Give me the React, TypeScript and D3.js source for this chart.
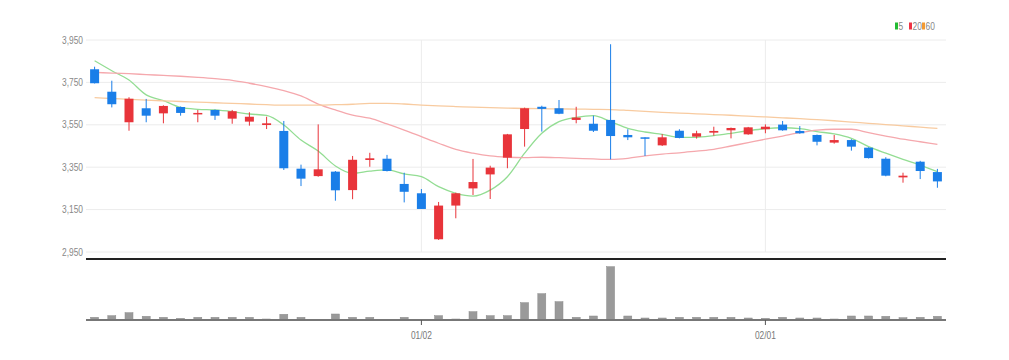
import React, { useEffect } from "react";
import * as d3 from "d3";

// trading days (MM/DD)
const dates = [
  "12/01", "12/04", "12/05", "12/06", "12/07", "12/08", "12/11", "12/12", "12/13", "12/14",
  "12/15", "12/18", "12/19", "12/20", "12/21", "12/22", "12/26", "12/27", "12/28", "01/02",
  "01/03", "01/04", "01/05", "01/08", "01/09", "01/10", "01/11", "01/12", "01/15", "01/16",
  "01/17", "01/18", "01/19", "01/22", "01/23", "01/24", "01/25", "01/26", "01/29", "02/01",
  "02/02", "02/05", "02/06", "02/07", "02/08", "02/13", "02/14", "02/15", "02/16", "02/19",
];
const tickDates = ["01/02", "02/01"];
const priceTicks = [2950, 3150, 3350, 3550, 3750, 3950];

const opens = [
  3812, 3706, 3562, 3628, 3604, 3634, 3600, 3620, 3579, 3565,
  3549, 3521, 3343, 3308, 3329, 3242, 3384, 3390, 3271, 3227,
  3010, 3169, 3250, 3316, 3395, 3530, 3635, 3628, 3573, 3555,
  3573, 3502, 3491, 3453, 3522, 3494, 3513, 3524, 3505, 3529,
  3551, 3521, 3502, 3466, 3478, 3442, 3390, 3302, 3376, 3327,
];
const highs = [
  3824, 3758, 3680, 3672, 3642, 3636, 3620, 3622, 3620, 3609,
  3588, 3568, 3362, 3552, 3332, 3403, 3418, 3408, 3324, 3247,
  3186, 3230, 3389, 3357, 3507, 3631, 3640, 3667, 3635, 3593,
  3930, 3529, 3491, 3506, 3529, 3522, 3541, 3537, 3540, 3552,
  3568, 3544, 3504, 3502, 3482, 3444, 3397, 3324, 3380, 3342,
];
const lows = [
  3745, 3632, 3522, 3562, 3557, 3593, 3562, 3573, 3555, 3546,
  3530, 3337, 3261, 3305, 3192, 3199, 3352, 3330, 3184, 3153,
  3007, 3109, 3219, 3200, 3345, 3447, 3518, 3600, 3557, 3516,
  3387, 3478, 3403, 3450, 3486, 3485, 3499, 3486, 3503, 3510,
  3522, 3508, 3453, 3461, 3428, 3391, 3307, 3277, 3294, 3253,
];
const closes = [
  3746, 3647, 3673, 3593, 3639, 3606, 3606, 3593, 3614, 3588,
  3557, 3345, 3296, 3340, 3241, 3385, 3392, 3332, 3234, 3153,
  3169, 3227, 3280, 3348, 3505, 3628, 3625, 3602, 3584, 3522,
  3497, 3491, 3486, 3491, 3488, 3510, 3521, 3535, 3538, 3541,
  3524, 3510, 3470, 3478, 3447, 3393, 3310, 3310, 3332, 3283,
];
const volumes = [
  27000, 43000, 73000, 37000, 27000, 17000, 27000, 27000, 27000, 27000,
  10000, 57000, 27000, 7000, 60000, 27000, 27000, 3000, 27000, 7000,
  43000, 10000, 83000, 43000, 43000, 173000, 263000, 183000, 27000, 40000,
  533000, 40000, 20000, 20000, 27000, 27000, 27000, 27000, 20000, 17000,
  27000, 20000, 20000, 10000, 40000, 40000, 37000, 23000, 27000, 37000,
];
const ma5 = [
  3852, 3805, 3761, 3691, 3664, 3632, 3623, 3620, 3612, 3601,
  3594, 3549, 3478, 3426, 3356, 3321, 3331, 3337, 3318, 3305,
  3258, 3227, 3214, 3242, 3305, 3416, 3510, 3565, 3585, 3593,
  3565, 3533, 3516, 3505, 3491, 3491, 3499, 3510, 3522, 3532,
  3536, 3532, 3518, 3507, 3486, 3447, 3416, 3387, 3360, 3329,
];
const ma20 = [
  3797, 3794, 3791, 3787, 3783, 3779, 3774, 3768, 3760, 3746,
  3730, 3711, 3686, 3648, 3620, 3596, 3581, 3554, 3525, 3494,
  3463, 3434, 3416, 3403, 3397, 3395, 3397, 3395, 3392, 3389,
  3387, 3392, 3403, 3412, 3418, 3426, 3434, 3450, 3466, 3482,
  3497, 3513, 3525, 3529, 3529, 3513, 3497, 3482, 3470, 3458,
];
const ma60 = [
  3678, 3674, 3670, 3666, 3663, 3660, 3657, 3654, 3651, 3648,
  3645, 3643, 3643, 3643, 3645, 3647, 3651, 3651, 3648, 3643,
  3639, 3636, 3633, 3631, 3629, 3627, 3626, 3625, 3624, 3623,
  3622, 3618, 3613, 3609, 3605, 3602, 3598, 3595, 3591, 3587,
  3583, 3579, 3574, 3569, 3563, 3557, 3551, 3545, 3539, 3533,
];

const maSeries = [
  { name: "5", values: ma5, color: "#22bb33", line: "#93dd93" },
  { name: "20", values: ma20, color: "#ee3344", line: "#f5a8ad" },
  { name: "60", values: ma60, color: "#f39a33", line: "#f8cba0" },
];

const UP = "#e8343a";
const DOWN = "#1a7ee8";
const FONT = "'Liberation Sans', Arial, sans-serif";

// narrow label text (the original uses a condensed face)
const Label = ({ x, y, anchor = "start", fill = "#888", children }: any) => (
  <text
    transform={`translate(${x},${y}) scale(0.8,1)`}
    textAnchor={anchor}
    fontSize={10.5}
    fill={fill}
  >
    {children}
  </text>
);

export default function App() {
  useEffect(() => {
    document.body.style.margin = "0";
  }, []);

  const width = 1009;
  const height = 360;
  const left = 86;
  const right = 946;

  const x = d3.scalePoint<string>().domain(dates).range([left, right]).padding(0.5);
  const y = d3.scaleLinear().domain([2950, 3950]).range([252, 40]);
  const yVol = d3.scaleLinear().domain([0, d3.max(volumes) as number]).range([320, 266.7]);

  const bodyW = 9;
  const volW = 8;

  const lineGen = (vals: number[]) =>
    d3
      .line<number>()
      .x((_, i) => x(dates[i]) as number)
      .y((d) => y(d))
      .curve(d3.curveMonotoneX)(vals) as string;

  return (
    <svg width={width} height={height} style={{ display: "block", fontFamily: FONT }}>
      {/* horizontal grid + price labels */}
      {priceTicks.map((t) => (
        <g key={t}>
          <line x1={left} x2={right} y1={y(t)} y2={y(t)} stroke="#ececec" strokeWidth={1} />
          <Label x={83} y={y(t) + 3.5} anchor="end">
            {d3.format(",")(t)}
          </Label>
        </g>
      ))}
      {/* vertical grid at month ticks */}
      {tickDates.map((d) => (
        <line key={d} x1={x(d)} x2={x(d)} y1={40} y2={252} stroke="#ececec" strokeWidth={1} />
      ))}

      {/* moving averages */}
      {maSeries.map((s) => (
        <path key={s.name} d={lineGen(s.values)} fill="none" stroke={s.line} strokeWidth={1.3} />
      ))}

      {/* candles */}
      {dates.map((d, i) => {
        const cx = x(d) as number;
        const up = closes[i] >= opens[i];
        const c = up ? UP : DOWN;
        const top = y(Math.max(opens[i], closes[i]));
        const bot = y(Math.min(opens[i], closes[i]));
        return (
          <g key={d}>
            <line x1={cx} x2={cx} y1={y(highs[i])} y2={y(lows[i])} stroke={c} strokeWidth={1} />
            <rect x={cx - bodyW / 2} y={top} width={bodyW} height={Math.max(1.5, bot - top)} fill={c} />
          </g>
        );
      })}

      {/* separator */}
      <line x1={left} x2={right} y1={259} y2={259} stroke="#222" strokeWidth={2} />

      {/* volume */}
      {dates.map((d, i) => {
        const cx = x(d) as number;
        const top = yVol(volumes[i]);
        return (
          <rect
            key={d}
            x={cx - volW / 2}
            y={top}
            width={volW}
            height={320 - top}
            fill="#9a9a9a"
            stroke="#8a8a8a"
            strokeWidth={0.5}
          />
        );
      })}
      <line x1={left} x2={right} y1={320} y2={320} stroke="#777" strokeWidth={2} />
      {tickDates.map((d) => (
        <g key={d}>
          <line x1={x(d)} x2={x(d)} y1={320} y2={325} stroke="#555" strokeWidth={1} />
          <Label x={x(d)} y={339} anchor="middle" fill="#777">
            {d}
          </Label>
        </g>
      ))}

      {/* legend */}
      {maSeries.map((s, i) => {
        const lx = [895, 909, 922][i];
        return (
          <g key={s.name}>
            <rect x={lx} y={22.5} width={3} height={7} fill={s.color} />
            <Label x={lx + 3.5} y={29.5}>
              {s.name}
            </Label>
          </g>
        );
      })}
    </svg>
  );
}
